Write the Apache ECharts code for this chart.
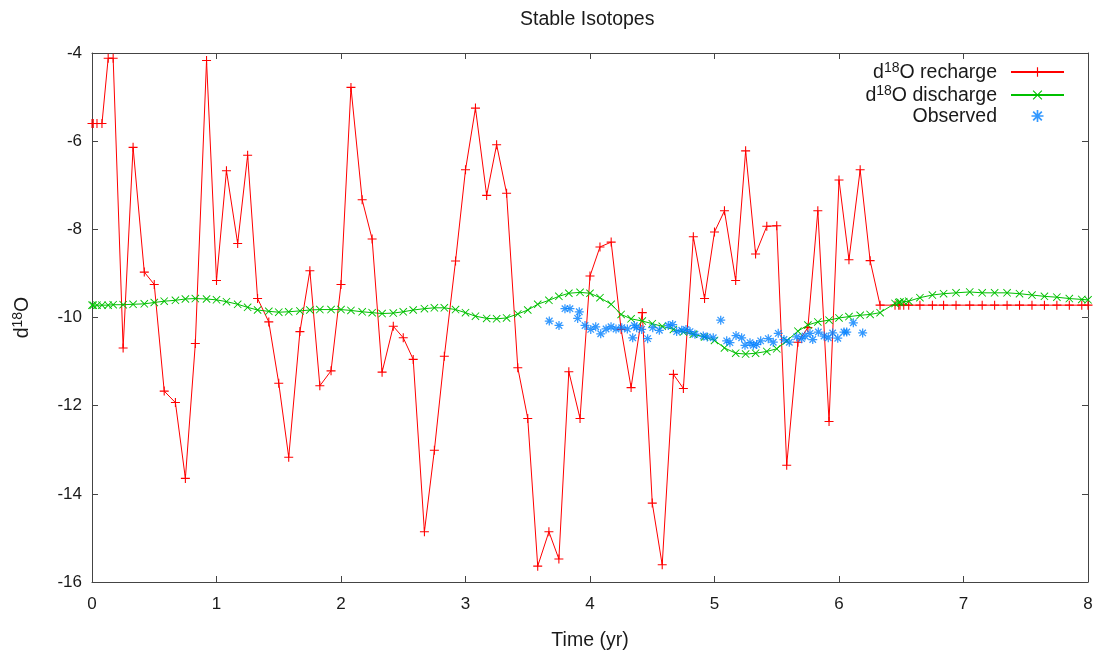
<!DOCTYPE html>
<html>
<head>
<meta charset="utf-8">
<script src="https://cdn.jsdelivr.net/npm/echarts@6/dist/echarts.min.js"></script>
<style>
html,body{margin:0;padding:0;background:#fff;}
#chart{width:1098px;height:656px;}
</style>
</head>
<body>
<div id="chart"></div>
<script>
// ---- data ----
const simTime = [0, 0.01, 0.04, 0.08, 0.13, 0.17,
  0.25, 0.33, 0.42, 0.5, 0.58, 0.67, 0.75, 0.83, 0.92, 1.0, 1.08, 1.17, 1.25, 1.33, 1.42, 1.5, 1.58, 1.67, 1.75, 1.83, 1.92,
  2.0, 2.08, 2.17, 2.25, 2.33, 2.42, 2.5, 2.58, 2.67, 2.75, 2.83, 2.92, 3.0, 3.08, 3.17, 3.25, 3.33, 3.42, 3.5, 3.58, 3.67, 3.75, 3.83, 3.92,
  4.0, 4.08, 4.17, 4.25, 4.33, 4.42, 4.5, 4.58, 4.67, 4.75, 4.83, 4.92, 5.0, 5.08, 5.17, 5.25, 5.33, 5.42, 5.5, 5.58, 5.67, 5.75, 5.83, 5.92,
  6.0, 6.08, 6.17, 6.25, 6.33,
  6.45, 6.48, 6.49, 6.52, 6.56, 6.65, 6.75, 6.84, 6.94, 7.05, 7.15, 7.25, 7.35, 7.45, 7.55, 7.65, 7.75, 7.85, 7.95, 8.0];

const rechargeD18O = [-5.6, -5.6, -5.6, -5.6, -4.12, -4.12,
  -10.69, -6.14, -8.97, -9.25, -11.67, -11.93, -13.65, -10.59, -4.17, -9.16, -6.67, -8.32, -6.32, -9.57, -10.10, -11.49, -13.17, -10.32, -8.94, -11.55, -11.21,
  -9.25, -4.78, -7.33, -8.22, -11.24, -10.20, -10.46, -10.95, -14.86, -13.01, -10.88, -8.72, -6.65, -5.25, -7.23, -6.08, -7.18, -11.14, -12.29, -15.64, -14.86, -15.48, -11.23, -12.29,
  -9.06, -8.40, -8.29, -10.27, -11.59, -9.89, -14.21, -15.61, -11.29, -11.61, -8.17, -9.57, -8.06, -7.58, -9.16, -6.22, -8.56, -7.93, -7.92, -13.35, -10.56, -10.23, -7.58, -12.36,
  -6.88, -8.69, -6.65, -8.71, -9.72,
  -9.72, -9.72, -9.72, -9.72, -9.72, -9.72, -9.72, -9.72, -9.72, -9.72, -9.72, -9.72, -9.72, -9.72, -9.72, -9.72, -9.72, -9.72, -9.72, -9.72];

const dischargeD18O = [-9.72, -9.72, -9.72, -9.72, -9.72, -9.71,
  -9.71, -9.70, -9.69, -9.66, -9.63, -9.61, -9.58, -9.57, -9.58, -9.60, -9.64, -9.70, -9.77, -9.83, -9.86, -9.88, -9.87, -9.85, -9.83, -9.82, -9.82,
  -9.82, -9.84, -9.87, -9.89, -9.91, -9.90, -9.87, -9.83, -9.80, -9.78, -9.78, -9.82, -9.89, -9.97, -10.02, -10.03, -10.01, -9.92, -9.83, -9.70, -9.61, -9.52, -9.45, -9.43,
  -9.45, -9.55, -9.70, -9.93, -10.03, -10.08, -10.14, -10.20, -10.27, -10.33, -10.38, -10.44, -10.52, -10.69, -10.81, -10.83, -10.81, -10.77, -10.71, -10.53, -10.31, -10.17, -10.10, -10.06,
  -10.01, -9.98, -9.95, -9.93, -9.89,
  -9.68, -9.66, -9.65, -9.64, -9.63, -9.55, -9.49, -9.46, -9.44, -9.42, -9.44, -9.44, -9.44, -9.46, -9.49, -9.52, -9.54, -9.57, -9.59, -9.60];

const observedTime = [3.673, 3.751, 3.799, 3.839, 3.914, 3.901, 3.960, 4.006, 4.046, 4.086, 4.129, 4.169, 4.209, 4.255, 4.300, 4.343, 4.356, 4.375, 4.415, 4.463,
  4.504, 4.557, 4.629, 4.664, 4.696, 4.737, 4.771, 4.803, 4.843, 4.910, 4.942, 4.990, 5.050, 5.098, 5.124, 5.173, 5.218, 5.245, 5.285, 5.312,
  5.339, 5.371, 5.432, 5.472, 5.512, 5.558, 5.601, 5.660, 5.700, 5.727, 5.767, 5.789, 5.834, 5.880, 5.914, 5.949, 5.990, 6.040, 6.062, 6.115, 6.190];
const observedD18O = [-10.08, -10.18, -9.80, -9.80, -9.87, -10.02, -10.18, -10.27, -10.21, -10.37, -10.26, -10.21, -10.26, -10.23, -10.26, -10.46, -10.18, -10.23, -10.27, -10.48,
  -10.23, -10.29, -10.18, -10.16, -10.32, -10.29, -10.27, -10.32, -10.38, -10.42, -10.44, -10.46, -10.06, -10.53, -10.57, -10.41, -10.46, -10.63, -10.57, -10.63,
  -10.61, -10.53, -10.48, -10.56, -10.36, -10.50, -10.56, -10.44, -10.48, -10.42, -10.36, -10.50, -10.33, -10.42, -10.46, -10.35, -10.47, -10.33, -10.33, -10.12, -10.35];

const xTicks = {min: 0, max: 8, step: 1};
const yTicks = {min: -16, max: -4, step: 2};
const seriesNames = ['recharge', 'discharge', 'Observed'];

// ---- chart ----
const zip = (xs, ys) => xs.map((x, i) => [x, ys[i]]);
const PLUS = 'path://M0,4.4H10V5.6H0Z M4.4,0H5.6V10H4.4Z';
const CROSS = 'path://M0,0.8L0.8,0L10,9.2L9.2,10Z M9.2,0L10,0.8L0.8,10L0,9.2Z';
const STAR = 'path://M0,4.3H10V5.7H0Z M4.3,0H5.7V10H4.3Z M0.9,1.9L1.9,0.9L9.1,8.1L8.1,9.1Z M8.1,0.9L9.1,1.9L1.9,9.1L0.9,8.1Z';
const FONT = 'Liberation Sans';
const TXT = '#1a1a1a';
const AX = '#444';
const BIG = 19.5;

const richSup = {
  n: {fontSize: BIG, fontFamily: FONT, color: TXT, lineHeight: 22, verticalAlign: 'bottom'},
  s: {fontSize: 14, fontFamily: FONT, color: TXT, lineHeight: 14, verticalAlign: 'top'}
};

const chart = echarts.init(document.getElementById('chart'), null, {renderer: 'canvas'});
const baseX = {type: 'value', min: xTicks.min, max: xTicks.max, interval: xTicks.step,
  splitLine: {show: false}, axisLine: {show: true, onZero: false, lineStyle: {color: AX, width: 1}},
  axisTick: {show: true, inside: true, length: 6, lineStyle: {color: AX}}};
const baseY = {type: 'value', min: yTicks.min, max: yTicks.max, interval: yTicks.step,
  splitLine: {show: false}, axisLine: {show: true, onZero: false, lineStyle: {color: AX, width: 1}},
  axisTick: {show: true, inside: true, length: 6, lineStyle: {color: AX}}};

chart.setOption({
  animation: false,
  backgroundColor: '#fff',
  title: {text: 'Stable Isotopes', left: 515, top: 5,
    textStyle: {fontFamily: FONT, fontSize: BIG, fontWeight: 'normal', color: TXT}},
  grid: {left: 92, right: 10, top: 53, bottom: 73, containLabel: false},
  legend: {
    orient: 'vertical', right: 28, top: 56, align: 'right',
    itemWidth: 53, itemHeight: 12, itemGap: 1,
    data: seriesNames,
    formatter: function (name) {
      if (name === 'Observed') return '{n|Observed}';
      return '{n|d}{s|18}{n|O ' + name + '}';
    },
    textStyle: {fontFamily: FONT, fontSize: BIG, color: TXT, padding: [0, 9, 0, 0], rich: richSup}
  },
  xAxis: [
    Object.assign({}, baseX, {position: 'bottom', name: 'Time (yr)', nameLocation: 'middle', nameGap: 49,
      nameTextStyle: {fontFamily: FONT, fontSize: BIG, color: TXT},
      axisLabel: {show: true, margin: 14, fontFamily: FONT, fontSize: 17, color: TXT}}),
    Object.assign({}, baseX, {position: 'top', axisLabel: {show: false}})
  ],
  yAxis: [
    Object.assign({}, baseY, {position: 'left', name: '{n|d}{s|18}{n|O}', nameLocation: 'middle', nameGap: 59, nameRotate: 90,
      nameTextStyle: {fontFamily: FONT, fontSize: BIG, color: TXT, rich: richSup},
      axisLabel: {show: true, margin: 10, fontFamily: FONT, fontSize: 17, color: TXT}}),
    Object.assign({}, baseY, {position: 'right', axisLabel: {show: false}})
  ],
  series: [
    {name: seriesNames[0], type: 'line', data: zip(simTime, rechargeD18O), xAxisIndex: 0, yAxisIndex: 0,
      symbol: PLUS, symbolSize: 9, showSymbol: true, showAllSymbol: true,
      lineStyle: {color: '#ff0000', width: 1}, itemStyle: {color: '#ff0000'}, emphasis: {disabled: true}, z: 2},
    {name: seriesNames[1], type: 'line', data: zip(simTime, dischargeD18O), xAxisIndex: 0, yAxisIndex: 0,
      symbol: CROSS, symbolSize: 8, showSymbol: true, showAllSymbol: true,
      lineStyle: {color: '#00c000', width: 1}, itemStyle: {color: '#00c000'}, emphasis: {disabled: true}, z: 3},
    {name: seriesNames[2], type: 'scatter', data: zip(observedTime, observedD18O), xAxisIndex: 0, yAxisIndex: 0,
      symbol: STAR, symbolSize: 9, itemStyle: {color: '#0080ff'}, emphasis: {disabled: true}, z: 4}
  ]
});
</script>
</body>
</html>
